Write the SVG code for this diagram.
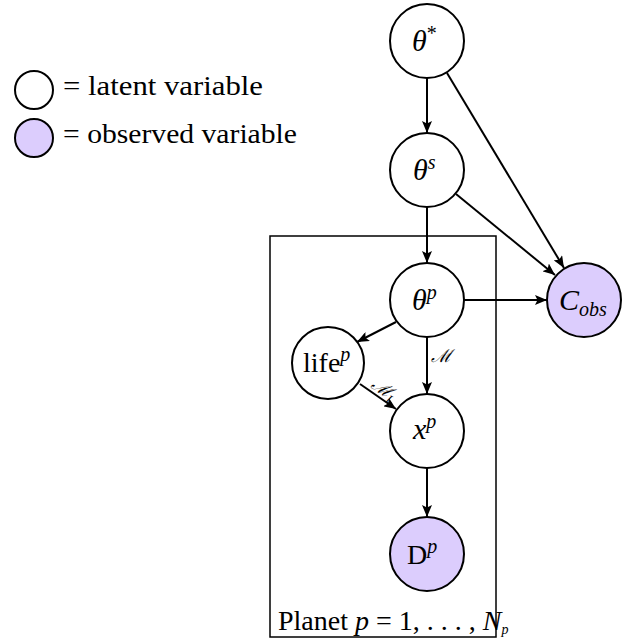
<svg xmlns="http://www.w3.org/2000/svg" width="633" height="642" viewBox="0 0 633 642">
<defs>
<marker id="arr" viewBox="0 0 12 10" refX="12" refY="5" markerWidth="12" markerHeight="10" markerUnits="userSpaceOnUse" orient="auto">
<path d="M0,0 L12,5 L0,10 L2.5,5 Z" fill="#000"/>
</marker>
</defs>
<style>
.n{fill:#fff;stroke:#000;stroke-width:2}
.o{fill:#dccdfd;stroke:#000;stroke-width:2}
.e{stroke:#000;stroke-width:2;fill:none;marker-end:url(#arr)}
.t{font-family:"Liberation Serif",serif;font-size:28px;fill:#000}
.m{font-family:"Liberation Serif",serif;font-style:italic;font-size:30px;fill:#000}
.s{font-family:"Liberation Serif",serif;font-style:italic;font-size:20px;fill:#000}
.lab{font-family:"Liberation Serif",serif;font-style:italic;font-size:18px;fill:#000}
</style>
<rect width="633" height="642" fill="#fff"/>
<g id="legend">
<circle class="n" cx="34" cy="90" r="19"/>
<text class="t" x="63" y="95" font-size="27" textLength="200" lengthAdjust="spacingAndGlyphs">= latent variable</text>
<circle class="o" cx="34" cy="138" r="19"/>
<text class="t" x="63" y="143" font-size="27" textLength="234" lengthAdjust="spacingAndGlyphs">= observed variable</text>
</g>
<g id="plate">
<rect x="270" y="236" width="226" height="401" fill="none" stroke="#000" stroke-width="1.5"/>
<text class="t" x="278" y="630" font-size="21">Planet <tspan font-style="italic">p</tspan> = 1, . . . , <tspan font-style="italic">N</tspan><tspan font-style="italic" font-size="14" dy="4">p</tspan></text>
</g>
<g id="connectors">
<line class="e" x1="427" y1="78" x2="427" y2="133"/>
<line class="e" x1="447" y1="73" x2="564" y2="268"/>
<line class="e" x1="456" y1="194" x2="555" y2="275"/>
<line class="e" x1="427" y1="207" x2="427" y2="263"/>
<line class="e" x1="464" y1="300" x2="547" y2="300"/>
<line class="e" x1="396" y1="322" x2="357" y2="342"/>
<line class="e" x1="427" y1="337" x2="427" y2="394"/>
<line class="e" x1="360" y1="384" x2="396" y2="409"/>
<line class="e" x1="427" y1="468" x2="427" y2="517"/>
<text class="lab" x="431" y="362">ℳ</text>
<text class="lab" x="367" y="389" transform="rotate(34 372 392)">ℳ<tspan font-size="12" dy="3">L</tspan></text>
</g>
<g id="theta_star">
<circle class="n" cx="427" cy="41" r="37"/>
<text class="m" x="412" y="51">θ<tspan font-style="normal" font-size="20" dy="-11">*</tspan></text>
</g>
<g id="theta_s">
<circle class="n" cx="427" cy="170" r="37"/>
<text class="m" x="413" y="180">θ<tspan class="s" dy="-11">s</tspan></text>
</g>
<g id="theta_p">
<circle class="n" cx="427" cy="300" r="37"/>
<text class="m" x="412" y="310">θ<tspan class="s" dy="-11">p</tspan></text>
</g>
<g id="C_obs">
<circle class="o" cx="584" cy="300" r="37"/>
<text class="m" x="559" y="310">C<tspan class="s" dy="6">obs</tspan></text>
</g>
<g id="life_p">
<circle class="n" cx="328" cy="363" r="36"/>
<text class="t" x="303" y="372">life<tspan class="s" dy="-11">p</tspan></text>
</g>
<g id="x_p">
<circle class="n" cx="427" cy="431" r="37"/>
<text class="m" x="413" y="439">x<tspan class="s" dy="-11">p</tspan></text>
</g>
<g id="D_p">
<circle class="o" cx="427" cy="554" r="37"/>
<text class="t" x="407" y="564">D<tspan class="s" dy="-11">p</tspan></text>
</g>
</svg>
